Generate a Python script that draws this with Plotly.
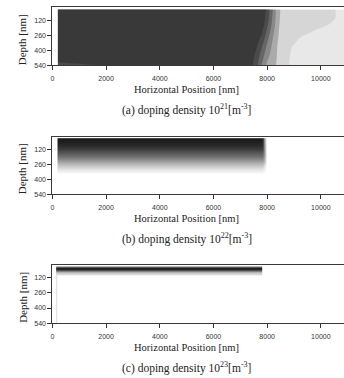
import plotly.graph_objects as go

# ---- panel (a): 1e21 m^-3, filled contour levels ----
pos_a = [200, 1000, 2000, 4000, 6000, 7000, 7400, 7600, 7800, 8000,
         8200, 8400, 8600, 9000, 9400, 9800, 10200, 10600, 11000]
depth_a = [20, 100, 160, 220, 280, 360, 450, 540]
level_a = [
    [6.5, 6.5, 6.5, 6.5, 6.5, 6.5, 6.5, 6.5, 6.5, 5.2, 3.6, 1.9, 1.0, 1.0, 1.0, 1.0, 1.0, 0.4, 0.0],
    [6.5, 6.5, 6.5, 6.5, 6.5, 6.5, 6.5, 6.5, 6.3, 5.0, 3.4, 1.8, 1.0, 1.0, 1.0, 1.0, 1.0, 0.4, 0.0],
    [6.5, 6.5, 6.5, 6.5, 6.5, 6.5, 6.5, 6.5, 6.1, 4.7, 3.2, 1.7, 1.0, 1.0, 1.0, 1.0, 0.6, 0.1, 0.0],
    [6.5, 6.5, 6.5, 6.5, 6.5, 6.5, 6.5, 6.3, 5.7, 4.3, 2.9, 1.6, 1.0, 1.0, 1.0, 0.4, 0.0, 0.0, 0.0],
    [6.5, 6.5, 6.5, 6.5, 6.5, 6.5, 6.4, 6.0, 5.3, 3.9, 2.6, 1.55, 1.0, 0.9, 0.2, 0.0, 0.0, 0.0, 0.0],
    [6.5, 6.5, 6.5, 6.5, 6.5, 6.5, 6.2, 5.6, 4.6, 3.3, 2.3, 1.4, 1.0, 0.4, 0.0, 0.0, 0.0, 0.0, 0.0],
    [6.5, 6.5, 6.5, 6.5, 6.5, 6.5, 6.0, 5.2, 4.0, 2.8, 2.1, 1.35, 1.0, 0.2, 0.0, 0.0, 0.0, 0.0, 0.0],
    [5.0, 5.3, 5.55, 6.5, 6.5, 6.5, 5.8, 4.9, 3.4, 2.3, 1.9, 1.3, 1.0, 0.1, 0.0, 0.0, 0.0, 0.0, 0.0],
]
shades_a = ['#e8e8e8', '#d6d6d6', '#aaaaaa', '#888888', '#666666', '#4b4b4b', '#393939']

# ---- panel (b): 1e22 m^-3, smooth density (bin edges) ----
pos_b = [190, 400, 7700, 7800, 7880, 7950, 8020, 11000]
depth_b = [14, 20, 60, 100, 140, 180, 220, 260, 300, 330, 345]
dens_b = [
    [1.00, 1.00, 1.00, 0.95, 0.35, 0.0, 0.0],
    [0.99, 0.99, 0.99, 0.94, 0.35, 0.0, 0.0],
    [0.94, 0.94, 0.94, 0.90, 0.38, 0.0, 0.0],
    [0.85, 0.85, 0.85, 0.82, 0.40, 0.0, 0.0],
    [0.71, 0.71, 0.71, 0.69, 0.40, 0.0, 0.0],
    [0.55, 0.55, 0.55, 0.54, 0.34, 0.0, 0.0],
    [0.38, 0.38, 0.38, 0.37, 0.24, 0.0, 0.0],
    [0.22, 0.22, 0.22, 0.20, 0.10, 0.0, 0.0],
    [0.09, 0.09, 0.09, 0.07, 0.03, 0.0, 0.0],
    [0.02, 0.02, 0.02, 0.01, 0.00, 0.0, 0.0],
]

# ---- panel (c): 1e23 m^-3, thin surface layer (bin edges) ----
pos_c = [140, 190, 7820, 11000]
depth_c = [15, 25, 35, 45, 55, 65, 75, 85, 95, 540]
dens_c = [
    [0.60, 0.60, 0.0],
    [0.95, 0.95, 0.0],
    [1.00, 1.00, 0.0],
    [0.88, 0.88, 0.0],
    [0.65, 0.65, 0.0],
    [0.42, 0.42, 0.0],
    [0.22, 0.22, 0.0],
    [0.10, 0.10, 0.0],
    [0.15, 0.00, 0.0],
]

x_ticks = [0, 2000, 4000, 6000, 8000, 10000]
x_tick_labels = ['0', '2000', '4000', '6000', '8000', '10000']
depth_ticks = [120, 260, 400, 540]
depth_tick_labels = ['120', '260', '400', '540']
captions = [
    "(a) doping density 10<sup>21</sup>[m<sup>-3</sup>]",
    "(b) doping density 10<sup>22</sup>[m<sup>-3</sup>]",
    "(c) doping density 10<sup>23</sup>[m<sup>-3</sup>]",
]

W, H = 344, 378
gray_scale = [[0, '#ffffff'], [1, '#1c1c1c']]

fig = go.Figure()
fig.add_trace(go.Contour(
    x=pos_a, y=depth_a, z=level_a,
    contours=dict(start=0.5, end=5.5, size=1, coloring='fill', showlines=False),
    line=dict(width=0),
    colorscale=[[i / 6, c] for i, c in enumerate(shades_a)],
    showscale=False, hoverinfo='skip', xaxis='x', yaxis='y'))
fig.add_trace(go.Heatmap(
    x=pos_b, y=depth_b, z=dens_b, zsmooth='best', zmin=0, zmax=1,
    colorscale=gray_scale, showscale=False, hoverinfo='skip',
    xaxis='x2', yaxis='y2'))
fig.add_trace(go.Heatmap(
    x=pos_c, y=depth_c, z=dens_c, zsmooth=False, zmin=0, zmax=1,
    colorscale=gray_scale, showscale=False, hoverinfo='skip',
    xaxis='x3', yaxis='y3'))

# panel frames in pixels: (top, bottom)
frames = [(7.5, 66.0), (137.8, 195.7), (267.0, 325.7)]
x_left = 50.7
x_max = (W - x_left) / 0.027

tick_font = dict(family='Liberation Sans, Arial, sans-serif', size=7, color='#333333')
serif = 'Liberation Serif, Times New Roman, serif'

layout = dict(
    width=W, height=H, margin=dict(l=0, r=0, t=0, b=0),
    paper_bgcolor='white', plot_bgcolor='white', showlegend=False,
)
annotations = []
for i, (top, bot) in enumerate(frames):
    sfx = '' if i == 0 else str(i + 1)
    layout['xaxis' + sfx] = dict(
        domain=[x_left / W, 1], range=[0, x_max], anchor='y' + sfx,
        tickmode='array', tickvals=x_ticks, ticktext=x_tick_labels,
        ticks='outside', ticklen=4, tickcolor='#333333',
        showline=True, mirror=True, linecolor='#3a3a3a', linewidth=1,
        showgrid=False, zeroline=False, tickfont=tick_font, fixedrange=True,
        ticklabelstandoff=2)
    layout['yaxis' + sfx] = dict(
        domain=[1 - bot / H, 1 - top / H], range=[540, 0], anchor='x' + sfx,
        tickmode='array', tickvals=depth_ticks, ticktext=depth_tick_labels,
        ticks='outside', ticklen=4, tickcolor='#333333',
        showline=True, linecolor='#3a3a3a', linewidth=1,
        showgrid=False, zeroline=False, tickfont=tick_font, fixedrange=True)
    annotations.append(dict(
        text='Depth [nm]', textangle=-90, xref='paper', yref='paper',
        x=21 / W, y=1 - ((top + bot) / 2 + 3) / H, xanchor='center', yanchor='middle',
        showarrow=False, font=dict(family=serif, size=11, color='#222222')))
    annotations.append(dict(
        text='Horizontal Position [nm]', xref='paper', yref='paper',
        x=(x_left + 0.027 * 5000) / W, y=1 - (bot + 24.5) / H,
        xanchor='center', yanchor='middle',
        showarrow=False, font=dict(family=serif, size=10.5, color='#222222')))
    annotations.append(dict(
        text=captions[i], xref='paper', yref='paper',
        x=(x_left + 0.027 * 5000) / W, y=1 - (bot + 44.5) / H,
        xanchor='center', yanchor='middle',
        showarrow=False, font=dict(family=serif, size=11.5, color='#222222')))
layout['annotations'] = annotations
fig.update_layout(**layout)

fig.write_html("out.html")
